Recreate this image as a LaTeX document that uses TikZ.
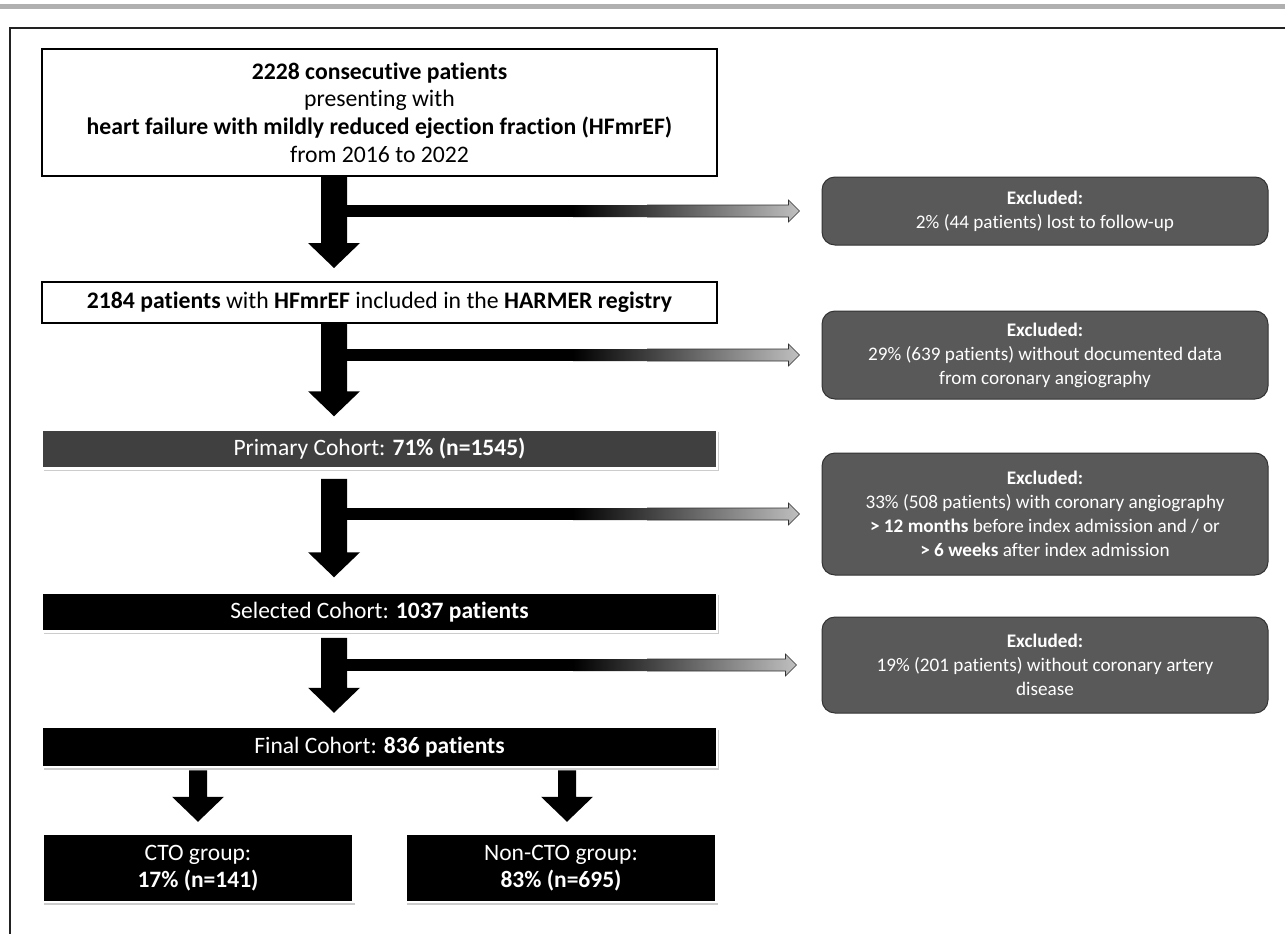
\documentclass[tikz,border=0pt]{standalone}
\usepackage{fontspec}
\setmainfont{Carlito}[Ligatures=NoCommon]
\usetikzlibrary{calc,shadows}
\definecolor{exfill}{HTML}{595959}
\definecolor{exline}{HTML}{333333}
\definecolor{primfill}{HTML}{404040}
\definecolor{barcol}{HTML}{B0B0B0}
\definecolor{framecol}{HTML}{222222}
% #1 start point, #2 tip point, #3 half trunk width, #4 half head width
\newcommand\trunkarrow[4]{%
  \fill let \p1=(#1), \p2=(#2) in
   (\x1-#3,\y1) -- (\x1+#3,\y1) -- (\x1+#3,\y2+25pt) -- (\x1+#4,\y2+25pt)
   -- (\x1,\y2) -- (\x1-#4,\y2+25pt) -- (\x1-#3,\y2+25pt) -- cycle;}
% #1 start point (trunk edge), #2 tip point
\newcommand\branch[2]{%
  \fill let \p1=(#1) in (\x1,\y1+6pt) rectangle (\x1+228pt,\y1-6pt);
  \shade[left color=black,right color=gray!50] let \p1=(#1), \p2=(#2) in
   (\x1+226pt,\y1+6pt) -- (\x2-11pt,\y1+6pt) -- (\x2-11pt,\y1+11pt) -- (\x2,\y1)
   -- (\x2-11pt,\y1-11pt) -- (\x2-11pt,\y1-6pt) -- (\x1+226pt,\y1-6pt) -- cycle;
  \draw[exline,line width=0.6pt,line join=miter] let \p1=(#1), \p2=(#2) in
   (\x1+300pt,\y1+6pt) -- (\x2-11pt,\y1+6pt) -- (\x2-11pt,\y1+11pt) -- (\x2,\y1)
   -- (\x2-11pt,\y1-11pt) -- (\x2-11pt,\y1-6pt) -- (\x1+300pt,\y1-6pt);}
\tikzset{
  whitebox/.style={draw=black,line width=2pt,fill=white,inner sep=0pt,align=center,
    font=\fontsize{23.7}{27.6}\selectfont},
  cohort/.style={draw=white,line width=2.5pt,fill=black,text=white,inner sep=0pt,align=center,
    font=\fontsize{23.5}{26.5}\selectfont,
    drop shadow={shadow xshift=1.5pt,shadow yshift=-2.5pt,fill=black,opacity=0.2}},
  exbox/.style={draw=exline,line width=1pt,fill=exfill,text=white,rounded corners=13pt,
    inner sep=0pt,align=center,minimum width=446pt,font=\fontsize{19.2}{24}\selectfont},
}
\begin{document}
\begin{tikzpicture}[x=1pt,y=-1pt]
\useasboundingbox (0,0) rectangle (1285,934);
% header bar and frame
\fill[barcol] (0,4) rectangle (1285,9.5);
\draw[framecol,line width=2pt] (10,934) -- (10,28) -- (1285,28);

% main column
\node[whitebox,minimum width=675pt,minimum height=127pt] (top) at (379.5,112.5)
  {\textbf{2228 consecutive patients}\\presenting with\\
   \textbf{heart failure with mildly reduced ejection fraction (HFmrEF)}\\from 2016 to 2022};
\node[whitebox,minimum width=675pt,minimum height=41pt] (reg) at (379.5,302.5)
  {\textbf{2184 patients} with \textbf{HFmrEF} included in the \textbf{HARMER registry}};
\node[cohort,fill=primfill,minimum width=675pt,minimum height=39pt] (prim) at (379.5,449)
  {Primary Cohort: \textbf{71\% (n=1545)}};
\node[cohort,minimum width=675pt,minimum height=39pt] (sel) at (379.5,612)
  {Selected Cohort: \textbf{1037 patients}};
\node[cohort,minimum width=675pt,minimum height=40pt] (fin) at (379.5,747)
  {Final Cohort: \textbf{836 patients}};
\node[cohort,minimum width=311pt,minimum height=68pt] (cto) at (198,868)
  {CTO group:\\\textbf{17\% (n=141)}};
\node[cohort,minimum width=311pt,minimum height=68pt] (ncto) at (561,868)
  {Non-CTO group:\\\textbf{83\% (n=695)}};

% exclusion boxes
\node[exbox,minimum height=68pt] (ex1) at (1045,211)
  {\textbf{Excluded:}\\2\% (44 patients) lost to follow-up};
\node[exbox,minimum height=88pt] (ex2) at (1045,355)
  {\textbf{Excluded:}\\29\% (639 patients) without documented data\\from coronary angiography};
\node[exbox,minimum height=122pt] (ex3) at (1045,514)
  {\textbf{Excluded:}\\33\% (508 patients) with coronary angiography\\
   \textbf{> 12 months} before index admission and / or\\
   \textbf{> 6 weeks} after index admission};
\node[exbox,minimum height=96pt] (ex4) at (1045,665)
  {\textbf{Excluded:}\\19\% (201 patients) without coronary artery\\disease};

% arrow axes
\coordinate (ax) at (334,0);
\coordinate (axl) at (198,0);
\coordinate (axr) at (567,0);

% trunk arrows
\trunkarrow{top.south -| ax}{$(reg.north -| ax)+(0,-13)$}{13pt}{26pt}
\trunkarrow{reg.south -| ax}{$(prim.north -| ax)+(0,-12)$}{13pt}{26pt}
\trunkarrow{$(prim.south -| ax)+(0,9)$}{$(sel.north -| ax)+(0,-14)$}{13pt}{26pt}
\trunkarrow{$(sel.south -| ax)+(0,5)$}{$(fin.north -| ax)+(0,-13)$}{13pt}{26pt}
\trunkarrow{$(fin.south -| axl)+(0,2)$}{$(cto.north -| axl)+(0,-11)$}{9pt}{26pt}
\trunkarrow{$(fin.south -| axr)+(0,2)$}{$(ncto.north -| axr)+(0,-11)$}{9pt}{26pt}

% branch arrows
\branch{$(ax |- ex1.west)+(13,0)$}{$(ex1.west)+(-22,0)$}
\branch{$(ax |- ex2.west)+(13,0)$}{$(ex2.west)+(-22,0)$}
\branch{$(ax |- ex3.west)+(13,0)$}{$(ex3.west)+(-22,0)$}
\branch{$(ax |- ex4.west)+(13,0)$}{$(ex4.west)+(-25,0)$}
\end{tikzpicture}
\end{document}
